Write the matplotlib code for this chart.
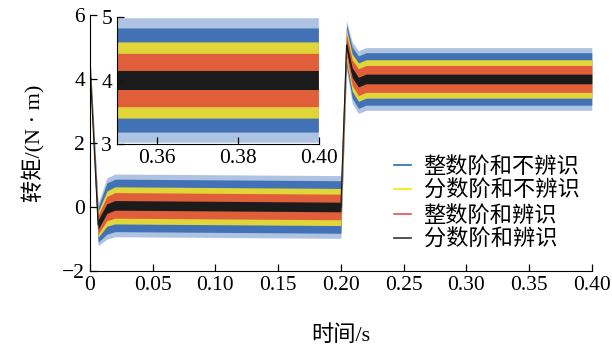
import matplotlib
matplotlib.use("Agg")
import matplotlib.pyplot as plt
import numpy as np

plt.rcParams['font.family'] = ['Liberation Serif', 'Noto Sans CJK SC']
plt.rcParams['axes.unicode_minus'] = True

# key times (s)
t_key = [0, 0.0065, 0.0135, 0.02, 0.2, 0.2045, 0.209, 0.214, 0.22, 0.4]
# centre of each trace (N*m)
mean_key = [4.4, -0.55, -0.05, 0.05, 0.0, 5.05, 4.2, 3.9, 4.0, 4.0]

# half-width of the noise band of each controller
labels = ["整数阶和不辨识", "分数阶和不辨识", "整数阶和辨识", "分数阶和辨识"]
colors = ["#4272b5", "#f2e22c", "#e0403a", "#1b1b1b"]
alphas = [1.0, 0.9, 0.8, 1.0]
legend_colors = ["#2c6cb0", "#f5e600", "#e65050", "#333333"]
hw_key = [
    [0.3, 0.55, 0.8, 0.82, 0.82, 0.65, 0.8, 0.82, 0.82, 0.82],
    [0.2, 0.4, 0.55, 0.58, 0.58, 0.5, 0.58, 0.6, 0.6, 0.6],
    [0.1, 0.3, 0.38, 0.4, 0.4, 0.35, 0.4, 0.42, 0.42, 0.42],
    [0.05, 0.15, 0.15, 0.15, 0.15, 0.12, 0.15, 0.15, 0.15, 0.15],
]
spike_hw = [0.98, 0.7, 0.5, 0.2]

t = np.array(t_key)
m = np.array(mean_key)

fig = plt.figure(figsize=(6.12, 3.47), dpi=100)
ax = fig.add_axes([0.147, 0.219, 0.82, 0.738])
ins = fig.add_axes([0.191, 0.585, 0.330, 0.366])

for a in (ax, ins):
    for i in range(4):
        hw = np.array(hw_key[i])
        if i == 0:
            hs = hw * spike_hw[i] / hw_key[i][-1]
            a.fill_between(t, m - hs, m + hs, color="#aec3e1", lw=0)
        a.fill_between(t, m - hw, m + hw, color=colors[i], alpha=alphas[i], lw=0)
    a.plot(t, m, color=colors[3], lw=0.8)
    a.spines['top'].set_visible(False)
    a.spines['right'].set_visible(False)
    a.tick_params(direction='in', labelsize=15.5, length=5, width=0.9)

for i in range(4):
    ax.plot([], [], color=legend_colors[i], lw=1.2, label=labels[i])

ax.set_xlim(0, 0.4)
ax.set_ylim(-2, 6)
ax.set_xticks([0, 0.05, 0.1, 0.15, 0.2, 0.25, 0.3, 0.35, 0.4])
ax.set_xticklabels(["0", "0.05", "0.10", "0.15", "0.20", "0.25", "0.30", "0.35", "0.40"])
ax.set_yticks([-2, 0, 2, 4, 6])
ax.set_xlabel("时间/s", fontsize=16, labelpad=22)
ax.set_ylabel("转矩/(N · m)", fontsize=16, labelpad=12)

ins.set_xlim(0.35, 0.4)
ins.set_ylim(3, 5)
ins.set_xticks([0.36, 0.38, 0.40])
ins.set_xticklabels(["0.36", "0.38", "0.40"])
ins.set_yticks([3, 4, 5])
ins.patch.set_alpha(0)

ax.legend(loc='upper left', bbox_to_anchor=(0.565, 0.525), frameon=False,
          fontsize=16, handlelength=0.8, handletextpad=0.55, labelspacing=0.16)

fig.savefig("out.png", dpi=100)
